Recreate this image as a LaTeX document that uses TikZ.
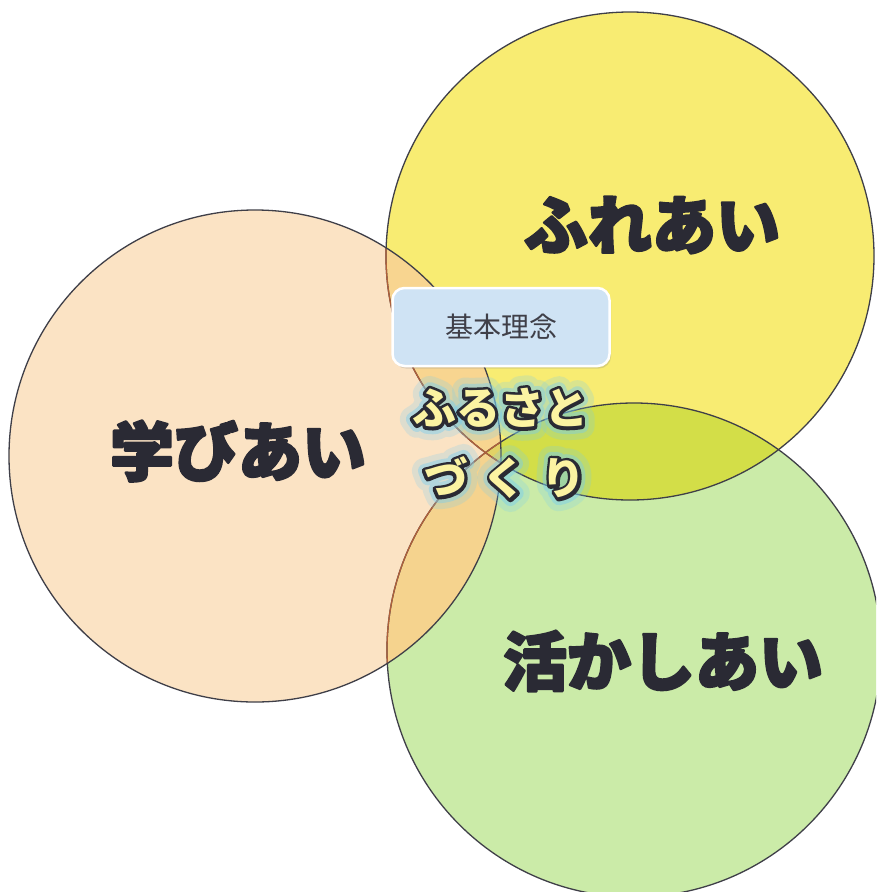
\documentclass[tikz,border=0pt]{standalone}
\usepackage{fontspec}
\newfontfamily\cjk{Noto Sans CJK JP}
\usetikzlibrary{shadows}
\definecolor{peach}{HTML}{FBE3C4}
\definecolor{yel}{HTML}{F8EC72}
\definecolor{grn}{HTML}{CBEBA8}
\definecolor{ygc}{HTML}{D3DE48}
\definecolor{pyc}{HTML}{F8D590}
\definecolor{pgc}{HTML}{F5D38E}
\definecolor{pygc}{HTML}{E2D266}
\definecolor{inkc}{HTML}{2A2A34}
\definecolor{brn}{HTML}{B0603A}
\definecolor{boxc}{HTML}{CFE3F4}
\definecolor{fillc}{HTML}{FBF3A2}
\tikzset{
  ring/.style={draw=inkc!90, line width=1.3pt},
  bigtxt/.style={font=\cjk\bfseries\fontsize{64}{64}\selectfont, text=inkc, inner sep=0pt},
  furu/.style={font=\cjk\bfseries\fontsize{44}{44}\selectfont, inner sep=0pt},
  kbox/.style={rounded corners=12pt, fill=boxc, draw=white, line width=2.5pt,
    minimum width=217pt, minimum height=78pt,
    drop shadow={opacity=0.25, shadow xshift=1.5pt, shadow yshift=-2.5pt},
    font=\cjk\fontsize{28}{28}\selectfont, text=inkc!90},
}
% #1 width, #2 stroke rgb, #3 render mode, #4 text
\newcommand\strk[4]{\special{pdf:literal direct 1 j 1 J #1 w #2 RG #3 Tr}#4\special{pdf:literal direct 0 Tr}}
\newcommand\heavy[1]{\strk{2.4}{0.165 0.165 0.204}{2}{#1}}
\newcommand\fancytext[3]{%
  \node[furu,text=white,opacity=0.22] at #2 {\strk{26}{0.45 0.80 0.95}{1}{#3}};
  \node[furu,text=white,opacity=0.40] at #2 {\strk{14}{0.45 0.80 0.95}{1}{#3}};
  \node[furu,text=inkc] at #2 {\strk{6.5}{0.165 0.165 0.204}{2}{#3}};
  \node[furu,text=fillc] (#1) at #2 {#3};
}
\begin{document}
\begin{tikzpicture}[x=1pt,y=-1pt]
\useasboundingbox (0,0) rectangle (876,892);
\fill[white] (0,0) rectangle (876,892);
\clip (0,0) rectangle (876,892);
\coordinate (Y) at (630,256);
\coordinate (P) at (255,456);
\coordinate (G) at (634,650);
% base fills
\fill[yel] (Y) circle (244pt);
\fill[grn] (G) circle (247pt);
\fill[peach] (P) circle (246pt);
% overlaps
\begin{scope}\clip (Y) circle (244pt); \fill[ygc] (G) circle (247pt); \end{scope}
\begin{scope}\clip (P) circle (246pt); \fill[pyc] (Y) circle (244pt); \end{scope}
\begin{scope}\clip (P) circle (246pt); \fill[pgc] (G) circle (247pt); \end{scope}
\begin{scope}\clip (P) circle (246pt); \clip (Y) circle (244pt); \fill[pygc] (G) circle (247pt); \end{scope}
% outlines
\draw[ring] (Y) circle (244pt);
\draw[ring] (G) circle (247pt);
\begin{scope}\clip (P) circle (246pt);
  \draw[ring, draw=brn] (Y) circle (244pt);
  \draw[ring, draw=brn] (G) circle (247pt);
\end{scope}
\draw[ring] (P) circle (246pt);
% labels
\node[bigtxt] (fureai) at (652,225) {\heavy{ふれあい}};
\node[bigtxt] (manabiai) at (238,451) {\heavy{学びあい}};
\node[bigtxt] (ikashiai) at (663,661) {\heavy{活かしあい}};
% box
\node[kbox] (kihon) at (501,327) {基本理念};
% furusato
\fancytext{furusato}{(500,408)}{ふるさと}
\fancytext{zukuri}{(505,478)}{づ\hspace{15pt}く\hspace{15pt}り}
\end{tikzpicture}
\end{document}
